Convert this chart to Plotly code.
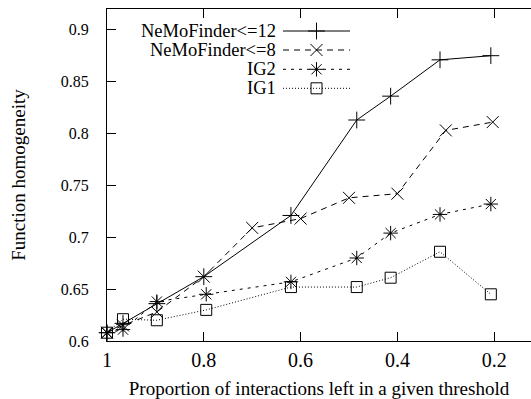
import plotly.graph_objects as go

# ---- data ----
x_nemo12 = [1.0, 0.967, 0.897, 0.80, 0.62, 0.484, 0.414, 0.312, 0.207]
y_nemo12 = [0.608, 0.617, 0.636, 0.662, 0.721, 0.813, 0.836, 0.871, 0.875]

x_nemo8 = [1.0, 0.967, 0.897, 0.80, 0.70, 0.60, 0.50, 0.40, 0.30, 0.203]
y_nemo8 = [0.608, 0.615, 0.628, 0.662, 0.709, 0.718, 0.738, 0.742, 0.803, 0.811]

x_ig = [1.0, 0.967, 0.897, 0.795, 0.62, 0.484, 0.414, 0.312, 0.207]
y_ig2 = [0.608, 0.611, 0.638, 0.645, 0.657, 0.680, 0.704, 0.722, 0.732]
y_ig1 = [0.608, 0.621, 0.620, 0.630, 0.652, 0.652, 0.661, 0.686, 0.645]

series_names = ["NeMoFinder<=12", "NeMoFinder<=8", "IG2", "IG1"]
x_ticks = [1, 0.8, 0.6, 0.4, 0.2]
x_ticklabels = ["1", "0.8", "0.6", "0.4", "0.2"]
y_ticks = [0.6, 0.65, 0.7, 0.75, 0.8, 0.85, 0.9]
y_ticklabels = ["0.6", "0.65", "0.7", "0.75", "0.8", "0.85", "0.9"]

FONT = "Liberation Serif, Times New Roman, Times, serif"
W, H = 531, 399
ML, MR, MT, MB = 107, 0, 9, 58

styles = [
    dict(dash="solid", symbol="cross-thin", size=12),
    dict(dash="6px,5px", symbol="x-thin", size=12),
    dict(dash="3px,5px", symbol="asterisk", size=12),
    dict(dash="1px,2px", symbol="square-open", size=11),
]
data_x = [x_nemo12, x_nemo8, x_ig, x_ig]
data_y = [y_nemo12, y_nemo8, y_ig2, y_ig1]

fig = go.Figure()
for name, xs, ys, st in zip(series_names, data_x, data_y, styles):
    fig.add_trace(go.Scatter(
        x=xs, y=ys, name=name, mode="lines+markers", cliponaxis=False,
        line=dict(color="black", width=1, dash=st["dash"]),
        marker=dict(symbol=st["symbol"], size=st["size"], color="black",
                    line=dict(color="black", width=1)),
        showlegend=False,
    ))

# ---- manual gnuplot-style key (overlay axes in pixel units) ----
key_rows = [31, 50, 69.3, 88.3]
key_text_right = 278
key_x0, key_x1 = 283, 350
for name, st, ry in zip(series_names, styles, key_rows):
    fig.add_trace(go.Scatter(
        x=[key_x0, key_x1], y=[ry, ry], mode="lines", xaxis="x2", yaxis="y2",
        line=dict(color="black", width=1, dash=st["dash"]),
        showlegend=False, hoverinfo="skip", cliponaxis=False,
    ))
    fig.add_trace(go.Scatter(
        x=[(key_x0 + key_x1) / 2], y=[ry], mode="markers", xaxis="x2", yaxis="y2",
        marker=dict(symbol=st["symbol"], size=st["size"], color="black",
                    line=dict(color="black", width=1)),
        showlegend=False, hoverinfo="skip", cliponaxis=False,
    ))
    fig.add_annotation(
        x=key_text_right, y=ry, xref="x2", yref="y2", text=name,
        xanchor="right", yanchor="middle", showarrow=False,
        font=dict(family=FONT, size=18.5, color="black"),
    )

fig.update_layout(
    width=W, height=H,
    margin=dict(l=ML, r=MR, t=MT, b=MB),
    paper_bgcolor="white", plot_bgcolor="white",
    font=dict(family=FONT, color="black"),
    xaxis=dict(
        range=[1.0, 0.124], tickvals=x_ticks, ticktext=x_ticklabels,
        ticks="inside", ticklen=9, tickwidth=1, tickcolor="black",
        showline=True, linecolor="black", linewidth=1, mirror="ticks",
        showgrid=False, zeroline=False, ticklabelstandoff=1,
        tickfont=dict(family=FONT, size=20, color="black"),
        title=dict(text="Proportion of interactions left in a given threshold",
                   font=dict(family=FONT, size=19, color="black"), standoff=14),
    ),
    yaxis=dict(
        range=[0.6, 0.92], tickvals=y_ticks, ticktext=y_ticklabels,
        ticks="inside", ticklen=9, tickwidth=1, tickcolor="black",
        showline=True, linecolor="black", linewidth=1, mirror=False,
        showgrid=False, zeroline=False, ticklabelstandoff=14,
        tickfont=dict(family=FONT, size=16, color="black"),
        title=dict(text="Function homogeneity",
                   font=dict(family=FONT, size=19, color="black"), standoff=30),
    ),
    xaxis2=dict(range=[ML, W - MR], overlaying="x", visible=False, fixedrange=True),
    yaxis2=dict(range=[H - MB, MT], overlaying="y", visible=False, fixedrange=True),
)

fig.write_html("out.html")
